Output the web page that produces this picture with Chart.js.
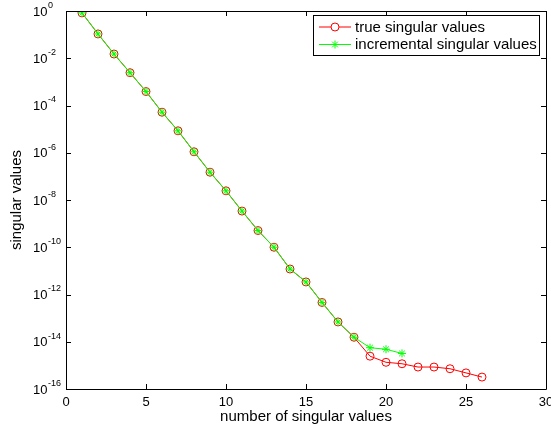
<!DOCTYPE html>
<html>
<head>
<meta charset="utf-8">
<script src="https://cdn.jsdelivr.net/npm/chart.js@4"></script>
<style>
  html, body { margin: 0; padding: 0; background: #fff; }
  #wrap { width: 551px; height: 432px; }
</style>
</head>
<body>
<div id="wrap"><canvas id="chart" width="551" height="432"></canvas></div>
<script>
// singular value index
const rank = [1, 2, 3, 4, 5, 6, 7, 8, 9, 10, 11, 12, 13, 14, 15, 16, 17, 18, 19, 20, 21, 22, 23, 24, 25, 26];
// true singular values
const trueSV = [0.83, 0.107, 1.51e-2, 2.45e-3, 3.9e-4, 5.2e-5, 8.5e-6, 1.1e-6, 1.5e-7, 2.45e-8,
  3.4e-9, 5.1e-10, 1.0e-10, 1.2e-11, 3.4e-12, 4.6e-13, 6.9e-14, 1.55e-14, 2.45e-15, 1.35e-15,
  1.17e-15, 8.5e-16, 8.5e-16, 7.2e-16, 4.8e-16, 3.2e-16];
// incremental singular values (first 21 only)
const incSV = [0.83, 0.107, 1.51e-2, 2.45e-3, 3.9e-4, 5.2e-5, 8.5e-6, 1.1e-6, 1.5e-7, 2.45e-8,
  3.4e-9, 5.1e-10, 1.0e-10, 1.2e-11, 3.4e-12, 4.6e-13, 6.9e-14, 1.55e-14, 5.6e-15, 4.8e-15, 3.2e-15];
// y tick exponents
const yExps = [0, -2, -4, -6, -8, -10, -12, -14, -16];
const xTicks = [0, 5, 10, 15, 20, 25, 30];

const FONT = '"Liberation Sans", Arial, Helvetica, sans-serif';

function pts(vals) {
  return vals.map((v, i) => ({ x: rank[i], y: v }));
}

// box, inside ticks, superscript y labels, legend
const matlabAxes = {
  id: 'matlabAxes',
  afterDraw(chart) {
    const ctx = chart.ctx;
    const a = chart.chartArea;
    const xs = chart.scales.x, ys = chart.scales.y;
    ctx.save();
    ctx.strokeStyle = '#000';
    ctx.lineWidth = 1;
    ctx.beginPath();
    ctx.rect(Math.round(a.left) + 0.5, Math.round(a.top) + 0.5,
      Math.round(a.right - a.left), Math.round(a.bottom - a.top));
    ctx.stroke();

    const tl = 5;
    ctx.beginPath();
    xTicks.forEach(v => {
      const px = Math.round(xs.getPixelForValue(v)) + 0.5;
      ctx.moveTo(px, a.bottom); ctx.lineTo(px, a.bottom - tl);
      ctx.moveTo(px, a.top); ctx.lineTo(px, a.top + tl);
    });
    yExps.forEach(e => {
      const py = Math.round(ys.getPixelForValue(Math.pow(10, e))) + 0.5;
      ctx.moveTo(a.left, py); ctx.lineTo(a.left + tl, py);
      ctx.moveTo(a.right, py); ctx.lineTo(a.right - tl, py);
    });
    ctx.stroke();

    // y labels 10^n
    ctx.fillStyle = '#000';
    ctx.textBaseline = 'middle';
    ctx.textAlign = 'left';
    yExps.forEach(e => {
      const py = ys.getPixelForValue(Math.pow(10, e));
      ctx.font = '13px ' + FONT;
      ctx.fillText('10', 33, py + 1);
      const w = ctx.measureText('10').width;
      ctx.font = '9px ' + FONT;
      ctx.fillText(String(e), 33 + w + 0.5, py - 5.5);
    });

    // legend
    const lx = 313, ly = 15, lw = 226, lh = 40;
    ctx.fillStyle = '#fff';
    ctx.fillRect(lx, ly, lw, lh);
    ctx.strokeStyle = '#000';
    ctx.strokeRect(lx + 0.5, ly + 0.5, lw, lh);
    const rows = [27, 44.5];
    chart.data.datasets.forEach((ds, i) => {
      const y = rows[i];
      ctx.strokeStyle = ds.borderColor;
      ctx.lineWidth = 1;
      ctx.beginPath();
      ctx.moveTo(319, y); ctx.lineTo(351, y);
      ctx.stroke();
      Chart.helpers.drawPoint(ctx, {
        pointStyle: ds.pointStyle, radius: ds.pointRadius, borderWidth: 1
      }, 335, y);
      ctx.fillStyle = '#000';
      ctx.font = '15px ' + FONT;
      ctx.textBaseline = 'middle';
      ctx.fillText(ds.label, 355, y + 0.5);
    });
    ctx.restore();
  }
};

new Chart(document.getElementById('chart'), {
  type: 'line',
  data: {
    datasets: [
      {
        label: 'true singular values',
        data: pts(trueSV),
        borderColor: '#ff0000',
        backgroundColor: 'rgba(0,0,0,0)',
        borderWidth: 1,
        pointStyle: 'circle',
        pointRadius: 4,
        pointBorderWidth: 1,
        pointBorderColor: '#ff0000',
        pointBackgroundColor: 'rgba(0,0,0,0)',
        tension: 0,
        order: 2
      },
      {
        label: 'incremental singular values',
        data: pts(incSV),
        borderColor: '#00ff00',
        backgroundColor: '#00ff00',
        borderWidth: 1,
        pointStyle: 'star',
        pointRadius: 4,
        pointBorderWidth: 1,
        pointBorderColor: '#00ff00',
        tension: 0,
        order: 1
      }
    ]
  },
  options: {
    responsive: false,
    animation: false,
    devicePixelRatio: 1,
    layout: { padding: { left: 0, right: 5, top: 11, bottom: 0 } },
    plugins: { legend: { display: false }, tooltip: { enabled: false } },
    scales: {
      x: {
        type: 'linear',
        min: 0, max: 30,
        afterBuildTicks(s) { s.ticks = xTicks.map(v => ({ value: v })); },
        afterFit(s) { s.height = 43; s.paddingLeft = 0; s.paddingRight = 0; },
        grid: { display: false, drawTicks: false },
        border: { display: false },
        ticks: { color: '#000', font: { family: FONT, size: 13 }, padding: 6, maxRotation: 0 },
        title: {
          display: true, text: 'number of singular values', color: '#000',
          font: { family: FONT, size: 15 }, padding: { top: 0, bottom: 6 }
        }
      },
      y: {
        type: 'logarithmic',
        min: 1e-16, max: 1,
        afterBuildTicks(s) { s.ticks = yExps.map(e => ({ value: Math.pow(10, e) })); },
        afterFit(s) { s.width = 66; s.paddingTop = 0; s.paddingBottom = 0; },
        grid: { display: false, drawTicks: false },
        border: { display: false },
        ticks: { display: false },
        title: {
          display: true, text: 'singular values', color: '#000',
          font: { family: FONT, size: 15 }, padding: { top: 8, bottom: 0 }
        }
      }
    }
  },
  plugins: [matlabAxes]
});
</script>
</body>
</html>
